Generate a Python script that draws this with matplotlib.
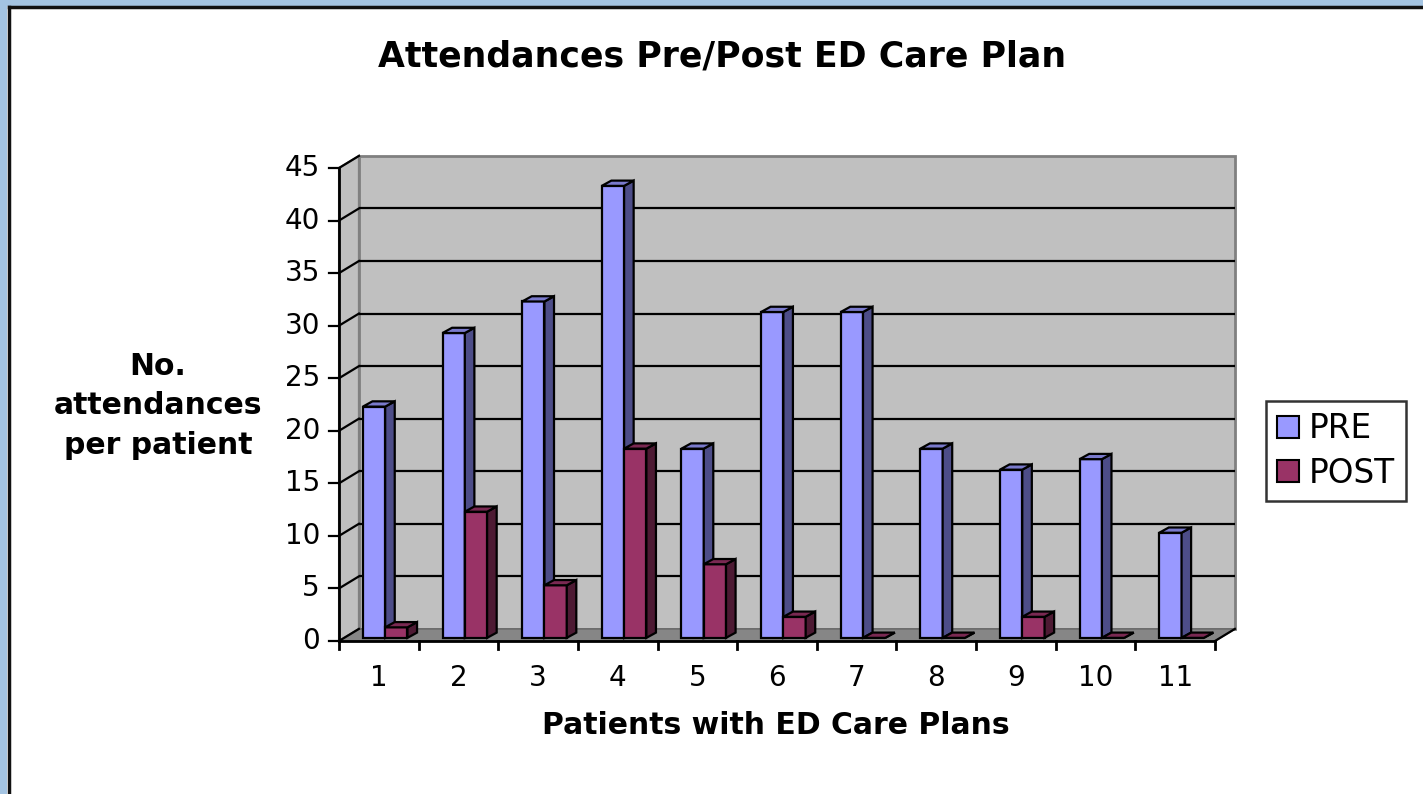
import matplotlib
matplotlib.use("Agg")
import matplotlib.pyplot as plt
from matplotlib.patches import Polygon, Patch, Rectangle
from matplotlib.lines import Line2D

plt.rcParams["font.family"] = ["DejaVu Sans"]

# data
patients = ["1", "2", "3", "4", "5", "6", "7", "8", "9", "10", "11"]
pre = [22, 29, 32, 43, 18, 31, 31, 18, 16, 17, 10]
post = [1, 12, 5, 18, 7, 2, 0, 0, 2, 0, 0]
series_names = ["PRE", "POST"]
y_ticks = [0, 5, 10, 15, 20, 25, 30, 35, 40, 45]

# colours: front, side, top
pre_cols = ("#9999ff", "#4d4d88", "#7a7acc")
post_cols = ("#993366", "#4d1a33", "#7a2952")

W, H = 1423, 794
fig = plt.figure(figsize=(W / 100, H / 100), dpi=100)
fig.patch.set_facecolor("white")

# plot area in pixels (front plane)
px0, px1, py0, py1 = 339, 1215, 641, 168
ax = fig.add_axes([px0 / W, (H - py0) / H, (px1 - px0) / W, (py0 - py1) / H])
n = len(patients)
ymax = y_ticks[-1]
ax.set_xlim(0.5, n + 0.5)
ax.set_ylim(0, ymax)
ax.axis("off")

DX, DY = 0.25, 1.15          # depth of the 3d box
BDX, BDY = 0.12, 0.5         # depth of each bar
LIFT = 0.3                    # bars stand slightly behind the front edge
BW = 0.28


def poly(pts, fc, ec="black", lw=1.6, z=2):
    ax.add_patch(Polygon(pts, closed=True, facecolor=fc, edgecolor=ec,
                         linewidth=lw, zorder=z, clip_on=False,
                         joinstyle="miter"))


x0, x1 = 0.5, n + 0.5
# back wall
poly([(x0 + DX, DY), (x1 + DX, DY), (x1 + DX, ymax + DY), (x0 + DX, ymax + DY)],
     "#c0c0c0", ec="#808080", lw=2, z=0)
# side wall
poly([(x0, 0), (x0 + DX, DY), (x0 + DX, ymax + DY), (x0, ymax)],
     "#c0c0c0", ec="#808080", lw=1.5, z=0)
# floor
poly([(x0, 0), (x1, 0), (x1 + DX, DY), (x0 + DX, DY)],
     "#868686", ec="#6a6a6a", lw=1.2, z=0.5)

# gridlines on back wall + diagonals on side wall
for t in y_ticks[1:-1]:
    ax.plot([x0 + DX, x1 + DX], [t + DY, t + DY], color="black", lw=1.6,
            zorder=1, clip_on=False, solid_capstyle="butt")
for t in y_ticks:
    ax.plot([x0, x0 + DX], [t, t + DY], color="black", lw=1.6, zorder=1,
            clip_on=False)
    ax.plot([x0 - 0.125, x0], [t, t], color="black", lw=1.6, zorder=3,
            clip_on=False)
    ax.text(x0 - 0.24, t, str(t), ha="right", va="center", fontsize=20)

# axes lines
ax.plot([x0, x0], [0, ymax], color="black", lw=2, zorder=3, clip_on=False)
ax.plot([x0, x1], [0, 0], color="black", lw=2, zorder=3, clip_on=False)
ax.plot([x1, x1 + DX], [0, DY], color="black", lw=1.6, zorder=3, clip_on=False)
for k in range(n + 1):
    ax.plot([x0 + k, x0 + k], [0, -0.75], color="black", lw=2, zorder=3,
            clip_on=False)
for i, lab in enumerate(patients, start=1):
    ax.text(i, -3.55, lab, ha="center", va="center", fontsize=20)


def bar3d(left, value, cols):
    b = LIFT
    r = left + BW
    t = b + value
    # front
    poly([(left, b), (r, b), (r, t), (left, t)], cols[0])
    # side
    poly([(r, b), (r + BDX, b + BDY), (r + BDX, t + BDY), (r, t)], cols[1])
    # top
    poly([(left, t), (r, t), (r + BDX, t + BDY), (left + BDX, t + BDY)], cols[2])


for i in range(n):
    c = i + 1
    bar3d(c - 0.20, pre[i], pre_cols)
    bar3d(c + 0.08, post[i], post_cols)

# titles
fig.text(722 / W, 1 - 57 / H, "Attendances Pre/Post ED Care Plan",
         ha="center", va="center", fontsize=25, fontweight="bold")
fig.text(776 / W, 1 - 725 / H, "Patients with ED Care Plans",
         ha="center", va="center", fontsize=21.5, fontweight="bold")
fig.text(158 / W, 1 - 406 / H, "No.\nattendances\nper patient",
         ha="center", va="center", fontsize=21.5, fontweight="bold",
         linespacing=1.45)

# legend
handles = [Patch(facecolor=pre_cols[0], edgecolor="black", lw=1.5),
           Patch(facecolor=post_cols[0], edgecolor="black", lw=1.5)]
leg = fig.legend(handles, series_names, loc="center left",
                 bbox_to_anchor=(1266 / W, 1 - 451 / H), fontsize=23.5,
                 frameon=True, fancybox=False, edgecolor="black",
                 handlelength=0.65, handleheight=0.65, handletextpad=0.3,
                 labelspacing=0.35, borderpad=0.35, borderaxespad=0)
leg.get_frame().set_linewidth(1.8)

# outer frame (blue band with black rule, top and left)
fig.add_artist(Rectangle((0, 1 - 6 / H), 1, 6 / H, transform=fig.transFigure,
                         facecolor="#a4c4e2", edgecolor="none"))
fig.add_artist(Rectangle((0, 0), 7 / W, 1, transform=fig.transFigure,
                         facecolor="#a4c4e2", edgecolor="none"))
fig.add_artist(Line2D([8.5 / W, 1], [1 - 7 / H, 1 - 7 / H],
                      transform=fig.transFigure, color="#111111", lw=2.5))
fig.add_artist(Line2D([8.5 / W, 8.5 / W], [0, 1 - 7 / H],
                      transform=fig.transFigure, color="#111111", lw=2.5))

fig.savefig("out.png", dpi=100)
